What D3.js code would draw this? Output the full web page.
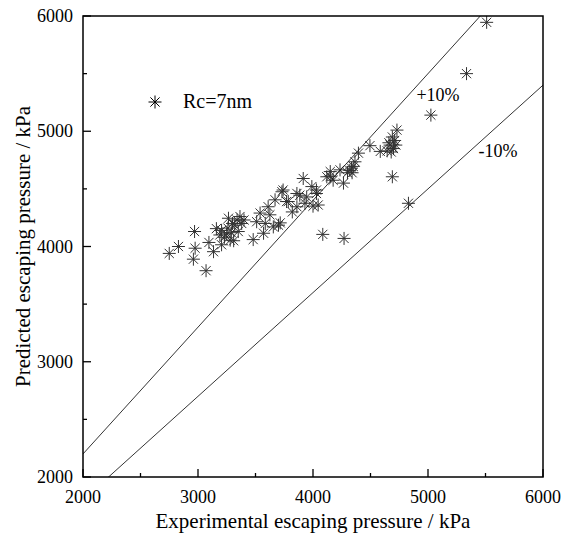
<!DOCTYPE html>
<html>
<head>
<meta charset="utf-8">
<script src="https://cdn.jsdelivr.net/npm/d3@7"></script>
<style>
  body { margin: 0; background: #fff; }
  svg text { font-family: "Liberation Serif", "Times New Roman", serif; fill: #000; }
</style>
</head>
<body>
<div id="chart"></div>
<script>
// experimental vs predicted escaping pressure (kPa)
const experimental = [2750, 2830, 2970, 2975, 2960, 3070, 3095, 3135, 3160, 3190,
  3205, 3205, 3230, 3265, 3280, 3300, 3320, 3290, 3350, 3365,
  3380, 3310, 3340, 3260, 3480, 3510, 3540, 3570, 3585, 3610,
  3625, 3655, 3670, 3700, 3715, 3730, 3740, 3770, 3785, 3860,
  3860, 3885, 3915, 3930, 3945, 3990, 4030, 4045, 4030, 4085,
  4120, 4150, 4175, 4150, 4235, 4265, 4270, 4300, 4320, 4335,
  4350, 4365, 4340, 4395, 4495, 4585, 4645, 4660, 4670, 4690,
  4700, 4720, 4690, 4730, 4830, 5025, 5335, 5510, 4000, 3820,
  4680, 4710, 3400, 3250];
const predicted = [3940, 4000, 4130, 3985, 3890, 3790, 4035, 3955, 4155, 4100,
  4140, 4015, 4080, 4245, 4055, 4200, 4185, 4120, 4130, 4260,
  4200, 4050, 4230, 4160, 4060, 4215, 4290, 4115, 4200, 4345,
  4275, 4170, 4405, 4185, 4205, 4475, 4490, 4390, 4390, 4345,
  4460, 4445, 4590, 4375, 4430, 4520, 4490, 4360, 4460, 4105,
  4605, 4650, 4575, 4610, 4665, 4550, 4070, 4640, 4660, 4680,
  4695, 4735, 4640, 4810, 4875, 4825, 4830, 4900, 4880, 4950,
  4850, 4880, 4605, 5010, 4375, 5140, 5500, 5945, 4350, 4300,
  4820, 4920, 4230, 4110];
const xTicks = [2000, 3000, 4000, 5000, 6000];
const yTicks = [2000, 3000, 4000, 5000, 6000];
const seriesLabel = "Rc=7nm";
const bandFactors = [1.1, 0.9];
const bandLabels = ["+10%", "-10%"];

const width = 561, height = 533;
const margin = { top: 16, right: 18, bottom: 56, left: 83 };

const x = d3.scaleLinear().domain([2000, 6000]).range([margin.left, width - margin.right]);
const y = d3.scaleLinear().domain([2000, 6000]).range([height - margin.bottom, margin.top]);

const svg = d3.select('#chart').append('svg')
  .attr('width', width)
  .attr('height', height);

svg.append('defs').append('clipPath').attr('id', 'clip')
  .append('rect')
  .attr('x', margin.left).attr('y', margin.top)
  .attr('width', x(6000) - x(2000)).attr('height', y(2000) - y(6000));

// +/-10% lines
bandFactors.forEach(f => {
  svg.append('line')
    .attr('clip-path', 'url(#clip)')
    .attr('x1', x(2000)).attr('y1', y(2000 * f))
    .attr('x2', x(6000)).attr('y2', y(6000 * f))
    .attr('stroke', '#000')
    .attr('stroke-width', 0.8);
});

svg.append('text').attr('x', x(5087)).attr('y', y(5297)).attr('font-size', 18)
  .attr('text-anchor', 'middle').attr('dominant-baseline', 'middle').text(bandLabels[0]);
svg.append('text').attr('x', x(5609)).attr('y', y(4811)).attr('font-size', 18)
  .attr('text-anchor', 'middle').attr('dominant-baseline', 'middle').text(bandLabels[1]);

// asterisk marker
function star(g, cx, cy, r) {
  const d = r * Math.SQRT1_2;
  const p = `M${cx - r},${cy}L${cx + r},${cy}M${cx},${cy - r}L${cx},${cy + r}` +
    `M${cx - d},${cy - d}L${cx + d},${cy + d}M${cx - d},${cy + d}L${cx + d},${cy - d}`;
  g.append('path').attr('d', p).attr('stroke', '#000').attr('stroke-width', 1).attr('fill', 'none');
}

const points = svg.append('g').attr('opacity', 0.8);
experimental.forEach((d, i) => star(points, x(d), y(predicted[i]), 6.5));

// legend
star(svg.append('g'), 155, 102, 6.5);
svg.append('text').attr('x', 183).attr('y', 108).attr('font-size', 20).text(seriesLabel);

// axes
const xAxis = svg.append('g').attr('transform', `translate(0,${y(2000)})`);
xAxis.selectAll('line').data(d3.range(2000, 6001, 500)).enter().append('line')
  .attr('x1', d => x(d)).attr('x2', d => x(d))
  .attr('y1', 0).attr('y2', d => d % 1000 === 0 ? -8 : -4)
  .attr('stroke', '#000').attr('stroke-width', 1.3);
xAxis.selectAll('text').data(xTicks).enter().append('text')
  .attr('x', d => x(d)).attr('y', 26)
  .attr('text-anchor', 'middle').attr('font-size', 18).text(d => d);

const yAxis = svg.append('g').attr('transform', `translate(${x(2000)},0)`);
yAxis.selectAll('line').data(d3.range(2000, 6001, 500)).enter().append('line')
  .attr('y1', d => y(d)).attr('y2', d => y(d))
  .attr('x1', 0).attr('x2', d => d % 1000 === 0 ? 8 : 4)
  .attr('stroke', '#000').attr('stroke-width', 1.3);
yAxis.selectAll('text').data(yTicks).enter().append('text')
  .attr('x', -10).attr('y', d => y(d) + 6)
  .attr('text-anchor', 'end').attr('font-size', 18).text(d => d);

// frame
svg.append('rect')
  .attr('x', x(2000)).attr('y', y(6000))
  .attr('width', x(6000) - x(2000)).attr('height', y(2000) - y(6000))
  .attr('fill', 'none').attr('stroke', '#000').attr('stroke-width', 1.5);

svg.append('text').attr('x', (x(2000) + x(6000)) / 2).attr('y', 528)
  .attr('text-anchor', 'middle').attr('font-size', 21)
  .text('Experimental escaping pressure / kPa');
svg.append('text')
  .attr('transform', `translate(30,${(y(2000) + y(6000)) / 2}) rotate(-90)`)
  .attr('text-anchor', 'middle').attr('font-size', 21)
  .text('Predicted escaping pressure / kPa');
</script>
</body>
</html>
